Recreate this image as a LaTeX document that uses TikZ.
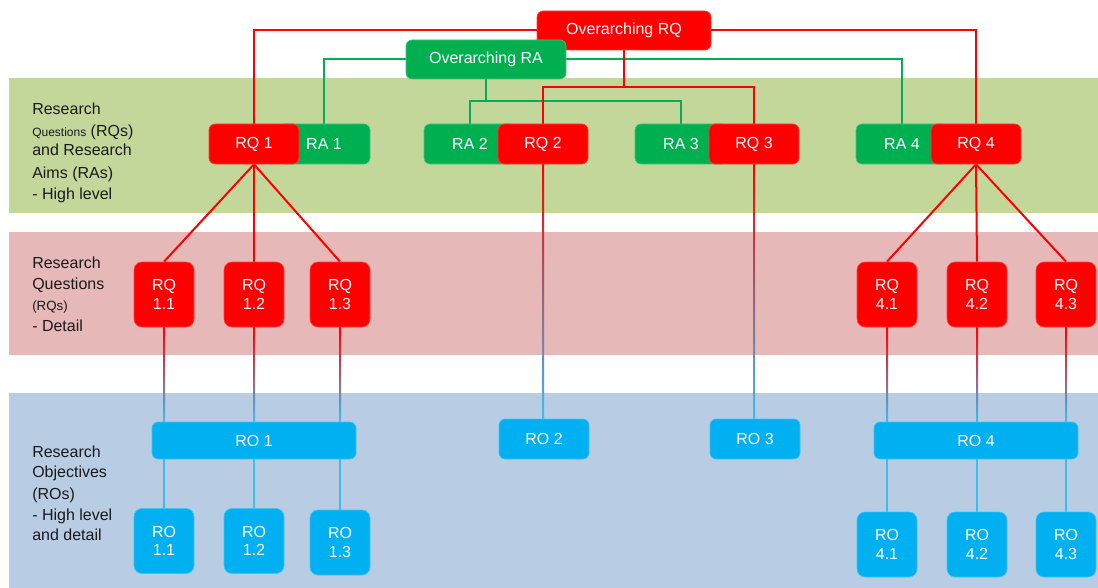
\documentclass[tikz,border=0pt]{standalone}
\usepackage{fontspec}
\setmainfont{Liberation Sans}
\usetikzlibrary{calc,backgrounds}

\definecolor{rqred}{HTML}{FF0000}
\definecolor{ragreen}{HTML}{00B050}
\definecolor{roblue}{HTML}{00B0F0}
\definecolor{bandgreen}{HTML}{C4D79B}
\definecolor{bandred}{HTML}{E6B8B7}
\definecolor{bandblue}{HTML}{B8CCE4}
\definecolor{roline}{HTML}{3CBDEE}
\definecolor{labeltext}{HTML}{1A1A1A}

\tikzset{
  box/.style={rounded corners=4.5pt, inner sep=0pt, text=white,
    font=\fontsize{12}{14}\selectfont, align=center, line width=0.5pt},
  rqbox/.style={box, fill=rqred, draw=rqred!75!white},
  rabox/.style={box, fill=ragreen, draw=ragreen!75!white},
  robox/.style={box, fill=roblue, draw=roblue!75!white},
  topsize/.style={minimum width=67.5pt, minimum height=30pt},
  rasize/.style={minimum width=69pt, minimum height=30pt},
  smallsize/.style={minimum width=45pt, minimum height=48.75pt, rounded corners=6pt},
  barsize/.style={minimum width=153pt, minimum height=27.75pt},
  redline/.style={draw=rqred, line width=1.5pt},
  greenline/.style={draw=ragreen, line width=1.5pt},
  blueline/.style={draw=roline, line width=1.5pt},
  bandlabel/.style={anchor=base west, inner sep=0pt, text=labeltext,
    font=\fontsize{12}{14}\selectfont},
}

% vertical link that fades from question red to objective blue
\newcommand\gradlink[2]{%
  \shade[top color=rqred, bottom color=roline]
    ($(#1.south)+(-1,0)$) rectangle ($(#1.south |- #2.north)+(1,0)$);}

\begin{document}
\begin{tikzpicture}[x=0.75pt, y=-0.75pt]
\useasboundingbox (0,0) rectangle (1098,588);

% ---------- overarching boxes ----------
\node[rqbox, minimum width=130.5pt, minimum height=29.25pt] (orq) at (624,30.5) {Overarching RQ};
\node[rabox, minimum width=120pt, minimum height=29.25pt] (ora) at (486,59.5) {Overarching RA};

% ---------- high-level aims (behind the questions) ----------
\node[rabox, rasize] (ra1) at (324,144) {RA 1};
\node[rabox, rasize] (ra2) at (470,144) {RA 2};
\node[rabox, rasize] (ra3) at (681,144) {RA 3};
\node[rabox, rasize] (ra4) at (902,144) {RA 4};

% ---------- high-level questions ----------
\node[rqbox, topsize] (rq1) at (254,144) {RQ 1};
\node[rqbox, topsize] (rq2) at (543,144) {RQ 2};
\node[rqbox, topsize] (rq3) at (754,144) {RQ 3};
\node[rqbox, topsize] (rq4) at (976,144) {RQ 4};

% ---------- detailed questions ----------
\node[rqbox, smallsize] (rq11) at (164,294.5) {RQ\\1.1};
\node[rqbox, smallsize] (rq12) at (254,294.5) {RQ\\1.2};
\node[rqbox, smallsize] (rq13) at (340,294.5) {RQ\\1.3};
\node[rqbox, smallsize] (rq41) at (887,294.5) {RQ\\4.1};
\node[rqbox, smallsize] (rq42) at (977,294.5) {RQ\\4.2};
\node[rqbox, smallsize] (rq43) at (1066,294.5) {RQ\\4.3};

% ---------- objectives ----------
\node[robox, barsize] (ro1) at (254,440.5) {RO 1};
\node[robox, topsize] (ro2) at (544,439) {RO 2};
\node[robox, topsize] (ro3) at (755,439) {RO 3};
\node[robox, barsize] (ro4) at (976,440.5) {RO 4};

\node[robox, smallsize] (ro11) at (164,541) {RO\\1.1};
\node[robox, smallsize] (ro12) at (254,541) {RO\\1.2};
\node[robox, smallsize] (ro13) at (340,542.5) {RO\\1.3};
\node[robox, smallsize] (ro41) at (887,544.5) {RO\\4.1};
\node[robox, smallsize] (ro42) at (977,544.5) {RO\\4.2};
\node[robox, smallsize] (ro43) at (1066,544.5) {RO\\4.3};

% ---------- band captions ----------
\node[bandlabel] (g1) at (32,115) {Research};
\node[bandlabel] (g2) at (32,137) {{\fontsize{9}{10}\selectfont Questions} (RQs)};
\node[bandlabel] (g3) at (32,156) {and Research};
\node[bandlabel] (g4) at (32,178) {Aims (RAs)};
\node[bandlabel] (g5) at (32,199) {- High level};

\node[bandlabel] (r1) at (32,268) {Research};
\node[bandlabel] (r2) at (32,289) {Questions};
\node[bandlabel] (r3) at (32,310) {{\fontsize{10}{11}\selectfont (RQs)}};
\node[bandlabel] (r4) at (32,331) {- Detail};

\node[bandlabel] (b1) at (32,457) {Research};
\node[bandlabel] (b2) at (32,477) {Objectives};
\node[bandlabel] (b3) at (32,499) {(ROs)};
\node[bandlabel] (b4) at (32,520) {- High level};
\node[bandlabel] (b5) at (32,540) {and detail};

\begin{pgfonlayer}{background}
  % bands
  \fill[bandgreen] (8.5,78) rectangle (1098,213);
  \fill[bandred]   (8.5,232) rectangle (1098,355);
  \fill[bandblue]  (8.5,393) rectangle (1098,588);

  % aims tree
  \draw[greenline] (ra1.north) |- (ora.west);
  \draw[greenline] (ora.east) -| (ra4.north);
  \coordinate (rabus) at (486,101);
  \draw[greenline] (ora.south) -- (rabus);
  \draw[greenline] (rabus) -| (ra2.north);
  \draw[greenline] (rabus) -| (ra3.north);

  % questions tree
  \draw[redline] (rq1.north) |- (orq.west);
  \draw[redline] (orq.east) -| (rq4.north);
  \coordinate (rqbus) at (624,87);
  \draw[redline] (orq.south) -- (rqbus);
  \draw[redline] (rqbus) -| (rq2.north);
  \draw[redline] (rqbus) -| (rq3.north);

  \foreach \c in {rq11,rq12,rq13} \draw[redline] (rq1.south) -- (\c.north);
  \foreach \c in {rq41,rq42,rq43} \draw[redline] (rq4.south) -- (\c.north);

  % questions to objectives
  \gradlink{rq11}{ro1}
  \gradlink{rq12}{ro1}
  \gradlink{rq13}{ro1}
  \gradlink{rq2}{ro2}
  \gradlink{rq3}{ro3}
  \gradlink{rq41}{ro4}
  \gradlink{rq42}{ro4}
  \gradlink{rq43}{ro4}

  % objectives to detailed objectives
  \foreach \c in {ro11,ro12,ro13} \draw[blueline] (\c.north) -- (\c.north |- ro1.south);
  \foreach \c in {ro41,ro42,ro43} \draw[blueline] (\c.north) -- (\c.north |- ro4.south);
\end{pgfonlayer}
\end{tikzpicture}
\end{document}
